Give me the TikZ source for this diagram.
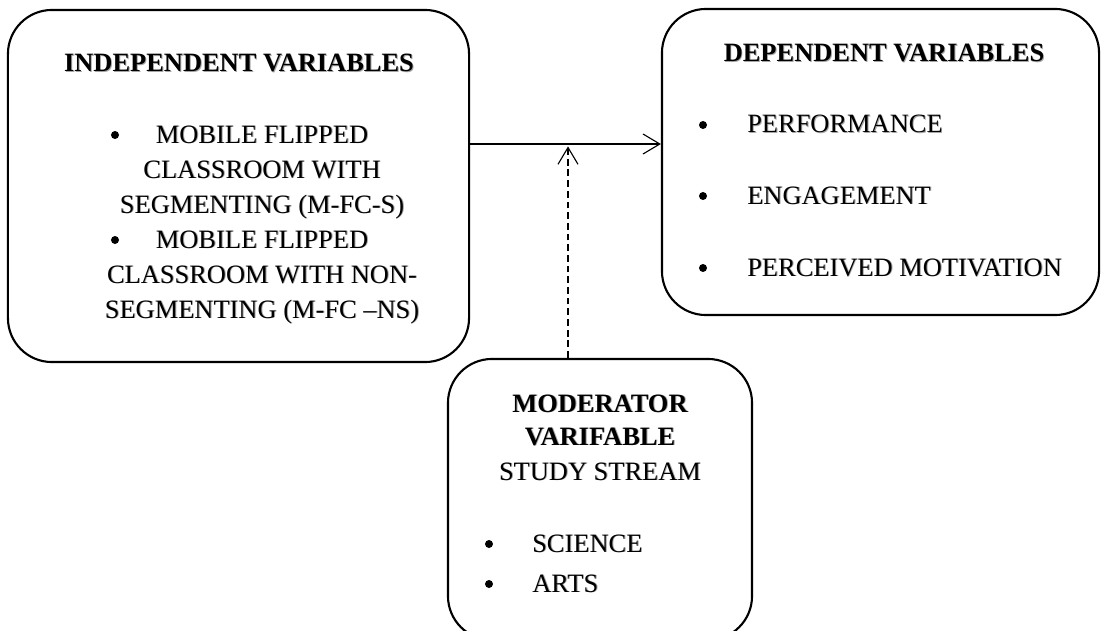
\documentclass[tikz,border=0pt]{standalone}
\usepackage{fontspec}
\setmainfont{Liberation Serif}
\usetikzlibrary{arrows.meta}

% text with a light drop shadow
\newcommand{\shd}[1]{\rlap{\kern0.7pt\raisebox{-0.7pt}{\textcolor{black!35}{#1}}}#1}

\tikzset{
  varbox/.style={draw, line width=1.5pt, rounded corners=1.1cm, inner sep=0pt},
  txt/.style={inner sep=0pt, font=\fontsize{18.8}{24.9}\selectfont},
  ttl/.style={txt, font=\fontsize{18.8}{24.9}\selectfont\bfseries},
  dot/.style={circle, fill=black, inner sep=0pt, minimum size=0.2cm},
  flow/.style={line width=0.8pt, -{Straight Barb[length=0.42cm, width=0.5cm]}}
}

\begin{document}
\begin{tikzpicture}[x=0.025cm, y=-0.025cm]
\useasboundingbox (0,0) rectangle (1102,630);
% boxes
\node[varbox, minimum width=11.525cm, minimum height=8.8cm] (indep) at (238.5,186) {};
\node[varbox, minimum width=10.925cm, minimum height=7.65cm] (dep) at (880.5,162) {};
\node[varbox, minimum width=7.6cm, minimum height=7.025cm] (moder) at (600,499.5) {};
% independent variables
\node[ttl, anchor=base] (indeptitle) at (239,72) {\shd{INDEPENDENT VARIABLES}};
\node[dot] (bulA) at (115,135) {};
\node[txt, anchor=base] (indA1) at (262,143) {\shd{MOBILE FLIPPED}};
\node[txt, anchor=base] (indA2) at (262,178) {\shd{CLASSROOM WITH}};
\node[txt, anchor=base] (indA3) at (262,213) {\shd{SEGMENTING (M-FC-S)}};
\node[dot] (bulB) at (115,240) {};
\node[txt, anchor=base] (indB1) at (262,248) {\shd{MOBILE FLIPPED}};
\node[txt, anchor=base] (indB2) at (262,283) {\shd{CLASSROOM WITH NON-}};
\node[txt, anchor=base] (indB3) at (262,318) {\shd{SEGMENTING (M-FC –NS)}};
% dependent variables
\node[ttl, anchor=base] (deptitle) at (884,62) {\shd{DEPENDENT VARIABLES}};
\node[dot] (bulC) at (703,125) {};
\node[txt, anchor=base west] (perf) at (747,133) {\shd{PERFORMANCE}};
\node[dot] (bulD) at (703,196) {};
\node[txt, anchor=base west] (eng) at (747,204) {\shd{ENGAGEMENT}};
\node[dot] (bulE) at (703,268) {};
\node[txt, anchor=base west] (motiv) at (747,276) {\shd{PERCEIVED MOTIVATION}};
% moderator
\node[ttl, anchor=base] (modtitleA) at (600,412) {\shd{MODERATOR}};
\node[ttl, anchor=base] (modtitleB) at (600,445) {\shd{VARIFABLE}};
\node[txt, anchor=base] (stream) at (600,480) {\shd{STUDY STREAM}};
\node[dot] (bulF) at (489,544) {};
\node[txt, anchor=base west] (sci) at (532,552) {\shd{SCIENCE}};
\node[dot] (bulG) at (489,584) {};
\node[txt, anchor=base west] (arts) at (532,592) {\shd{ARTS}};
% arrows
\coordinate (junction) at (568,144);
\draw[flow] (indep.east |- junction) -- (dep.west |- junction);
\draw[flow, dash pattern=on 4.8pt off 2.8pt] (moder.north -| junction) -- ([yshift=-0.06cm]junction);
\end{tikzpicture}
\end{document}
